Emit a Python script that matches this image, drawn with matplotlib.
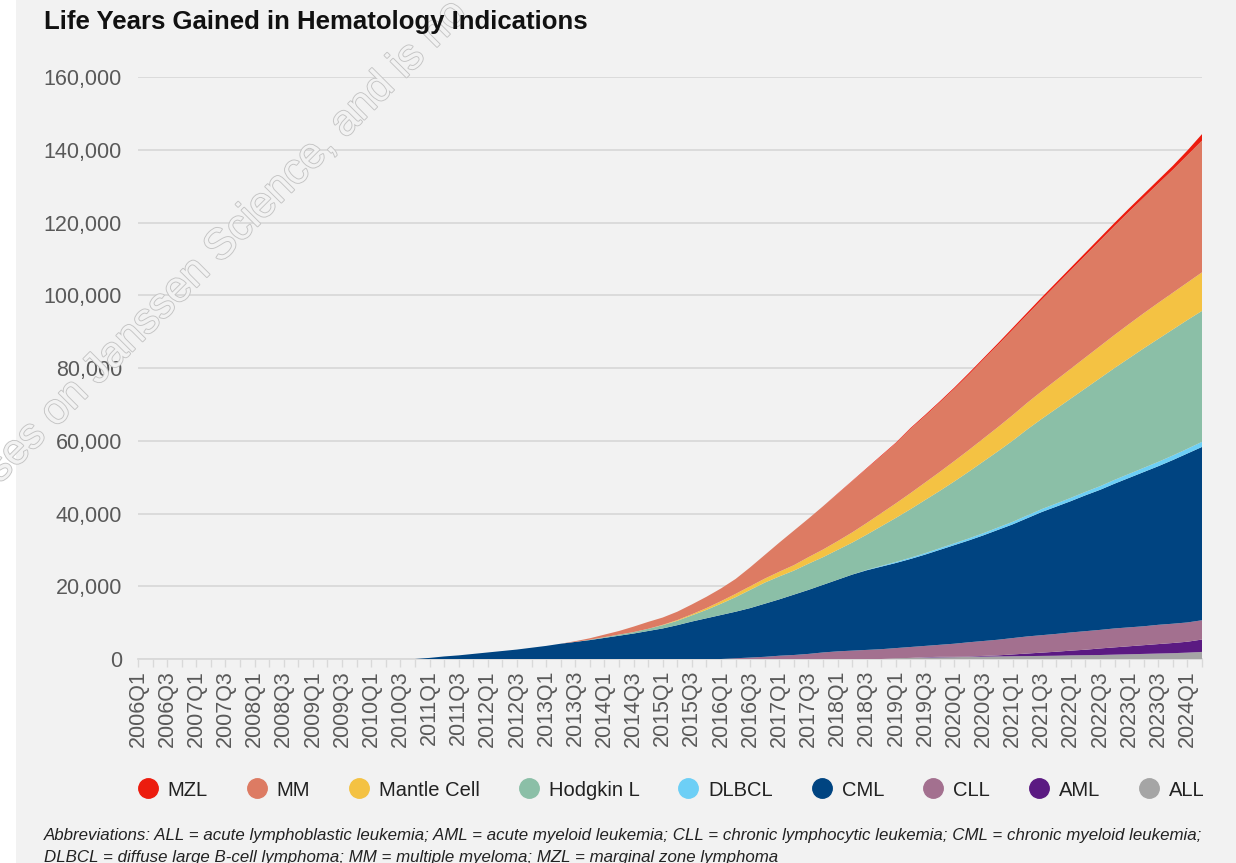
import matplotlib
matplotlib.use("Agg")
import matplotlib.pyplot as plt
import matplotlib.patheffects as pe
from matplotlib.lines import Line2D
from matplotlib.patches import Rectangle
from matplotlib.ticker import FuncFormatter

plt.rcParams['font.family'] = ['Liberation Sans', 'DejaVu Sans']

# quarters 2006Q1 .. 2024Q2
quarters = [f"{y}Q{q}" for y in range(2006, 2025) for q in range(1, 5)][:74]

# values (life years), one per quarter
ALL = [0] * 52 + [200, 300, 400, 450, 500, 600, 650, 700, 750, 800, 850, 900, 1000,
                  1050, 1100, 1200, 1300, 1400, 1500, 1600, 1750, 1950]
AML = [0] * 54 + [100, 150, 100, 100, 200, 300, 500, 700, 900, 1100, 1300, 1500, 1800,
                  2000, 2200, 2400, 2600, 2800, 3000, 3400]
CLL = [0] * 41 + [200, 400, 600, 900, 1100, 1400, 1800, 2100, 2300, 2500, 2700, 2800,
                  3000, 3100, 3300, 3600, 3900, 4100, 4300, 4500, 4700, 4800, 4900, 5000,
                  5100, 5100, 5200, 5200, 5200, 5300, 5300, 5300, 5300]
CML = [0] * 20 + [300, 700, 1000, 1400, 1800, 2200, 2600, 3100, 3600, 4200, 4700, 5200,
                  5800, 6400, 7000, 7700, 8400, 9300, 10300, 11200, 12100,
                  12800, 13600, 14600, 15500, 16600, 17600, 18600, 19700, 20900, 21900,
                  22700, 23400, 24200, 25100, 26100, 27100, 28000, 29050, 30200, 31250,
                  32500, 33850, 35000, 36100, 37350, 38500, 39800, 41100, 42400, 43600,
                  45000, 46450, 47650]
DLBCL = [0] * 50 + [100, 200, 300, 350, 400, 450, 500, 550, 600, 650, 700, 750, 800,
                    850, 900, 950, 1000, 1050, 1100, 1150, 1200, 1250, 1300, 1400]
Hodgkin = [0] * 31 + [100, 200, 300, 400, 600, 900, 1200, 1700, 2300, 3100,
                      4000, 5000, 5800, 6300, 6600, 7200, 7600, 8200, 8800, 9700,
                      10900, 12100, 13350, 14600, 15750, 17000, 18350, 19700, 20950, 22300,
                      23650, 24800, 26050, 27300, 28450, 29700, 30750, 31800, 32850, 33800,
                      34650, 35400, 36000]
Mantle = [0] * 36 + [100, 200, 300, 500, 700, 900, 1000, 1100, 1300, 1500,
                     1800, 2100, 2400, 2800, 3200, 3600, 4000, 4400, 4800, 5200,
                     5600, 5950, 6300, 6650, 7000, 7300, 7600, 7900, 8200, 8500,
                     8800, 9100, 9400, 9650, 9900, 10100, 10300, 10600]
MM = [0] * 30 + [200, 400, 700, 1000, 1500, 1900, 2000, 2300, 2700, 3100,
                 3500, 4100, 5200, 6500, 8000, 9500, 10600, 11900, 13000, 14100,
                 14950, 15700, 16500, 17650, 18300, 19100, 19850, 20750, 21700, 22600,
                 23500, 24250, 25200, 26150, 27100, 28050, 29000, 29950, 30900, 31800,
                 32800, 33800, 35000, 36200]
MZL = [0] * 48 + [100, 100, 150, 200, 200, 250, 300, 300, 350, 400, 400, 450, 500,
                  550, 600, 650, 700, 750, 800, 850, 900, 950, 1000, 1100, 1300, 1800]

# bottom -> top stacking order
series = [ALL, AML, CLL, CML, DLBCL, Hodgkin, Mantle, MM, MZL]
names = ["ALL", "AML", "CLL", "CML", "DLBCL", "Hodgkin L", "Mantle Cell", "MM", "MZL"]
colors = ["#a5a5a5", "#5b1a82", "#a3708f", "#004481", "#6dcff6",
          "#8bbfa7", "#f4c243", "#dd7b63", "#ec1c0e"]

bg = "#f2f2f2"
grid_c = "#d9d9d9"
txt_c = "#595959"

fig = plt.figure(figsize=(12.36, 8.63), dpi=100)
fig.patch.set_facecolor("white")
fig.add_artist(Rectangle((16 / 1236, 0), 1, 1, transform=fig.transFigure,
                         facecolor=bg, edgecolor="none", zorder=-10))

ax = fig.add_axes([138 / 1236, 1 - 659 / 863, 1064 / 1236, 582 / 863])
ax.patch.set_alpha(0)

x = list(range(len(quarters)))
ax.stackplot(x, *series, colors=colors, linewidth=0, zorder=3)

ax.set_xlim(0, len(quarters) - 1)
ax.set_ylim(0, 160000)
ax.set_yticks(range(0, 160001, 20000))
ax.yaxis.set_major_formatter(FuncFormatter(lambda v, p: f"{int(v):,}"))
ax.grid(axis="y", color=grid_c, linewidth=1.3, zorder=0)
ax.set_axisbelow(True)

ax.set_xticks(x)
ax.set_xticklabels([q if i % 2 == 0 else "" for i, q in enumerate(quarters)], rotation=90)

for s in ["top", "right", "left"]:
    ax.spines[s].set_visible(False)
ax.spines["bottom"].set_color(grid_c)
ax.spines["bottom"].set_linewidth(1.3)

ax.tick_params(axis="y", length=0, pad=11.5, labelsize=15.5, labelcolor=txt_c)
ax.tick_params(axis="x", length=6, width=1, color=grid_c, pad=2, labelsize=15.5, labelcolor=txt_c)

fig.text(44 / 1236, 1 - 22 / 863, "Life Years Gained in Hematology Indications",
         fontsize=18.5, fontweight="bold", color="#111111", va="center", ha="left")

# legend (top series first)
handles = [Line2D([], [], marker="o", linestyle="none", markersize=14,
                  markerfacecolor=c, markeredgecolor=c, label=n)
           for n, c in zip(names[::-1], colors[::-1])]
fig.legend(handles=handles, loc="center", bbox_to_anchor=(671 / 1236, 1 - 790 / 863),
           ncol=9, frameon=False, fontsize=14.5, handlelength=1.0, handletextpad=0.5,
           columnspacing=1.92, labelcolor="#222222")

fig.text(44 / 1236, 1 - 835 / 863,
         "Abbreviations: ALL = acute lymphoblastic leukemia; AML = acute myeloid leukemia; "
         "CLL = chronic lymphocytic leukemia; CML = chronic myeloid leukemia;",
         fontsize=12.2, style="italic", color="#222222", va="center", ha="left")
fig.text(44 / 1236, 1 - 857 / 863,
         "DLBCL = diffuse large B-cell lymphoma; MM = multiple myeloma; MZL = marginal zone lymphoma",
         fontsize=12.2, style="italic", color="#222222", va="center", ha="left")

# faint watermark
fig.text(0 / 1236, 1 - 484 / 863, "ses on Janssen Science, and is no",
         fontsize=31, rotation=45, rotation_mode="anchor", ha="left", va="baseline",
         color=bg, zorder=1,
         path_effects=[pe.Stroke(linewidth=1.3, foreground="#c4c4c4"), pe.Normal()])

fig.savefig("out.png", dpi=100, facecolor=fig.get_facecolor())
